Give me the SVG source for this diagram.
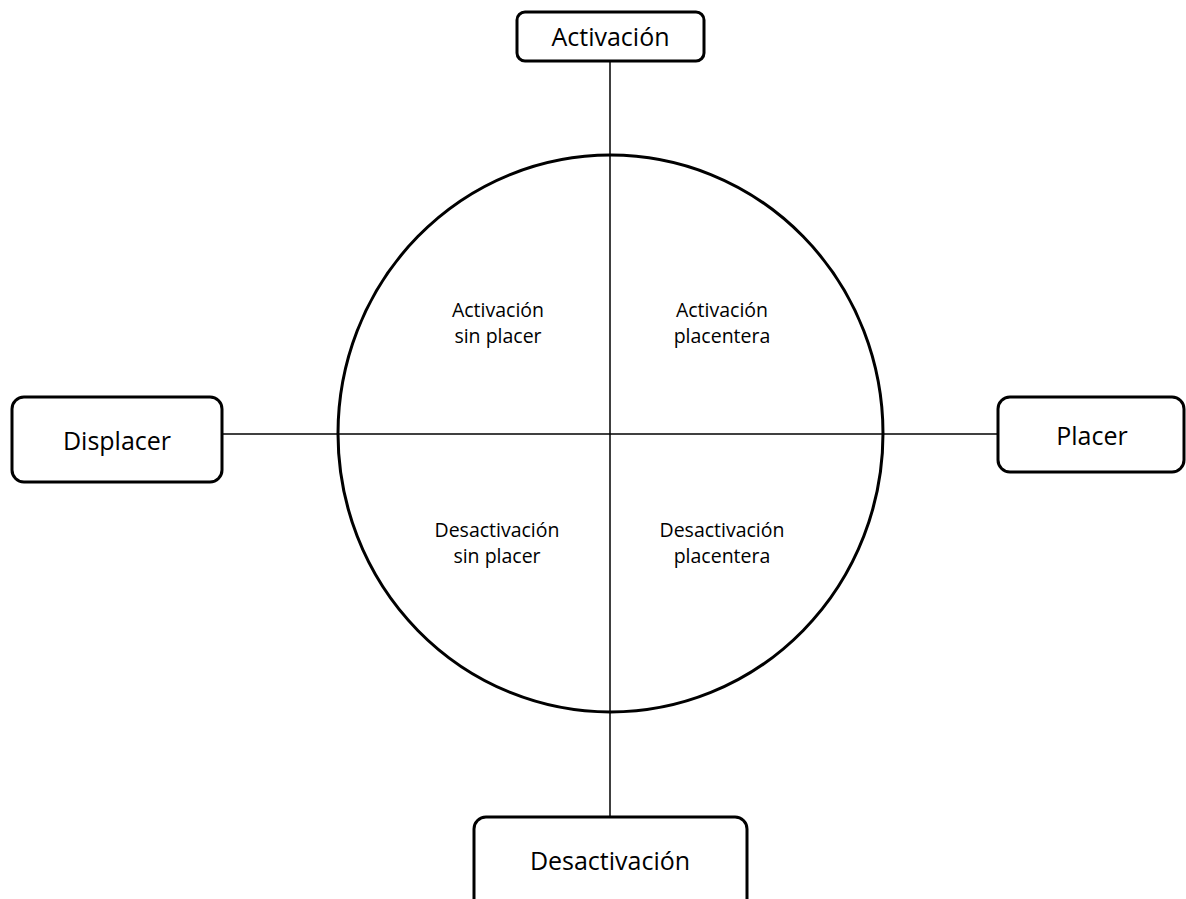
<svg xmlns="http://www.w3.org/2000/svg" width="1186" height="899" viewBox="0 0 1186 899">
<style>
.box{fill:#fff;stroke:#000;stroke-width:3}
.ln{stroke:#000;stroke-width:1.5;fill:none}
.big{font-family:"Open Sans","Noto Sans","Liberation Sans",sans-serif;font-size:25px;fill:#000;text-anchor:middle}
.sm{font-family:"Open Sans","Noto Sans","Liberation Sans",sans-serif;font-size:19.5px;fill:#000;text-anchor:middle}
</style>
<rect width="1186" height="899" fill="#fff"/>
<g id="connectors">
<line class="ln" x1="610" y1="61" x2="610" y2="817"/>
<line class="ln" x1="222" y1="434" x2="998" y2="434"/>
</g>
<g id="circle">
<ellipse cx="610.5" cy="433.5" rx="272.5" ry="278.5" fill="none" stroke="#000" stroke-width="3"/>
</g>
<g id="node-activacion">
<rect class="box" x="517" y="12" width="187" height="49" rx="8"/>
<text class="big" x="610.5" y="46">Activación</text>
</g>
<g id="node-displacer">
<rect class="box" x="12" y="397" width="210" height="85" rx="12"/>
<text class="big" x="117" y="450">Displacer</text>
</g>
<g id="node-placer">
<rect class="box" x="998" y="397" width="186" height="75" rx="12"/>
<text class="big" x="1092" y="445">Placer</text>
</g>
<g id="node-desactivacion">
<rect class="box" x="474" y="817" width="273" height="100" rx="12"/>
<text class="big" x="610" y="870">Desactivación</text>
</g>
<g id="q1">
<text class="sm" x="498" y="317">Activación</text>
<text class="sm" x="498" y="343">sin placer</text>
</g>
<g id="q2">
<text class="sm" x="722" y="317">Activación</text>
<text class="sm" x="722" y="343">placentera</text>
</g>
<g id="q3">
<text class="sm" x="497" y="537">Desactivación</text>
<text class="sm" x="497" y="563">sin placer</text>
</g>
<g id="q4">
<text class="sm" x="722" y="537">Desactivación</text>
<text class="sm" x="722" y="563">placentera</text>
</g>
</svg>
